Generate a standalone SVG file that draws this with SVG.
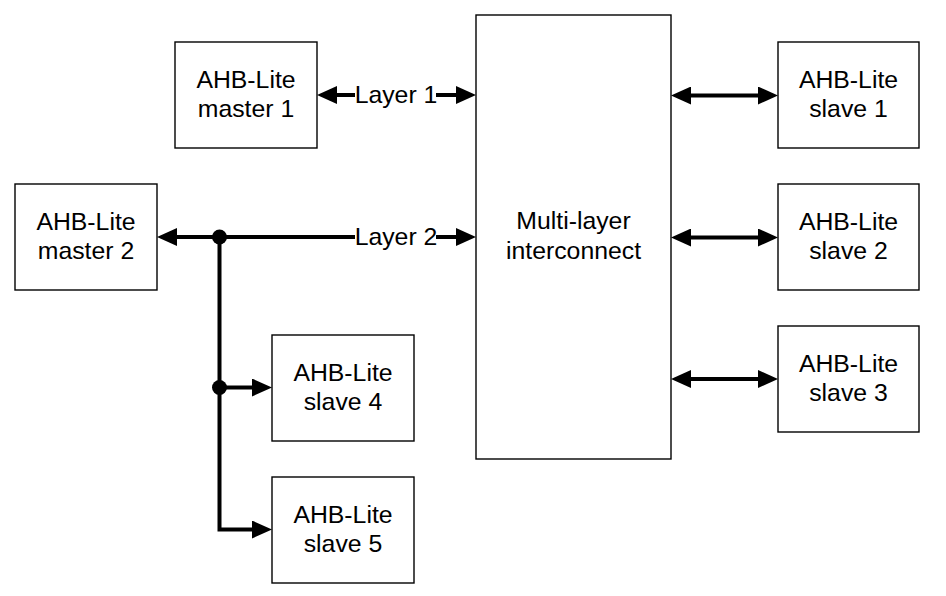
<svg xmlns="http://www.w3.org/2000/svg" width="946" height="596" viewBox="0 0 946 596">
<style>
.box{fill:#fff;stroke:#000;stroke-width:1.4}
.t{font-family:"Liberation Sans",Arial,sans-serif;font-size:24.8px;fill:#000;text-anchor:middle}
.c{fill:none;stroke:#000;stroke-width:4;stroke-linejoin:miter}
</style>
<defs>
<marker id="arr" markerUnits="userSpaceOnUse" markerWidth="20" markerHeight="18" viewBox="0 0 20 18" refX="4" refY="9" orient="auto-start-reverse">
<path d="M0,0 L20,9 L0,18 z" fill="#000"/>
</marker>
</defs>
<rect width="946" height="596" fill="#fff"/>
<g id="interconnect"><rect class="box" x="476" y="15" width="195" height="444"/><text class="t" x="573.5" y="229">Multi-layer</text><text class="t" x="573.5" y="259">interconnect</text></g>
<g id="master1"><rect class="box" x="175" y="42" width="142" height="106"/><text class="t" x="246" y="88">AHB-Lite</text><text class="t" x="246" y="117">master 1</text></g>
<g id="master2"><rect class="box" x="15" y="184" width="142" height="106"/><text class="t" x="86" y="230">AHB-Lite</text><text class="t" x="86" y="259">master 2</text></g>
<g id="slave1"><rect class="box" x="778" y="42" width="141" height="106"/><text class="t" x="848.5" y="88">AHB-Lite</text><text class="t" x="848.5" y="117">slave 1</text></g>
<g id="slave2"><rect class="box" x="778" y="184" width="141" height="106"/><text class="t" x="848.5" y="230">AHB-Lite</text><text class="t" x="848.5" y="259">slave 2</text></g>
<g id="slave3"><rect class="box" x="778" y="326" width="141" height="106"/><text class="t" x="848.5" y="372">AHB-Lite</text><text class="t" x="848.5" y="401">slave 3</text></g>
<g id="slave4"><rect class="box" x="272" y="335" width="142" height="106"/><text class="t" x="343" y="381">AHB-Lite</text><text class="t" x="343" y="410">slave 4</text></g>
<g id="slave5"><rect class="box" x="272" y="477" width="142" height="106"/><text class="t" x="343" y="523">AHB-Lite</text><text class="t" x="343" y="552">slave 5</text></g>
<g id="connectors">
<line class="c" x1="333" y1="95" x2="355" y2="95" marker-start="url(#arr)"/>
<text class="t" x="396" y="103">Layer 1</text>
<line class="c" x1="436" y1="95" x2="460" y2="95" marker-end="url(#arr)"/>
<line class="c" x1="173" y1="237" x2="355" y2="237" marker-start="url(#arr)"/>
<text class="t" x="396" y="245">Layer 2</text>
<line class="c" x1="436" y1="237" x2="460" y2="237" marker-end="url(#arr)"/>
<path class="c" d="M219.5,237 V529.5 H256" marker-end="url(#arr)"/>
<line class="c" x1="219.5" y1="387.5" x2="256" y2="387.5" marker-end="url(#arr)"/>
<circle cx="219.5" cy="237" r="7.5" fill="#000"/>
<circle cx="219.5" cy="387.5" r="7.5" fill="#000"/>
<line class="c" x1="687" y1="95.5" x2="762" y2="95.5" marker-start="url(#arr)" marker-end="url(#arr)"/>
<line class="c" x1="687" y1="237.5" x2="762" y2="237.5" marker-start="url(#arr)" marker-end="url(#arr)"/>
<line class="c" x1="687" y1="379" x2="762" y2="379" marker-start="url(#arr)" marker-end="url(#arr)"/>
</g>
</svg>
